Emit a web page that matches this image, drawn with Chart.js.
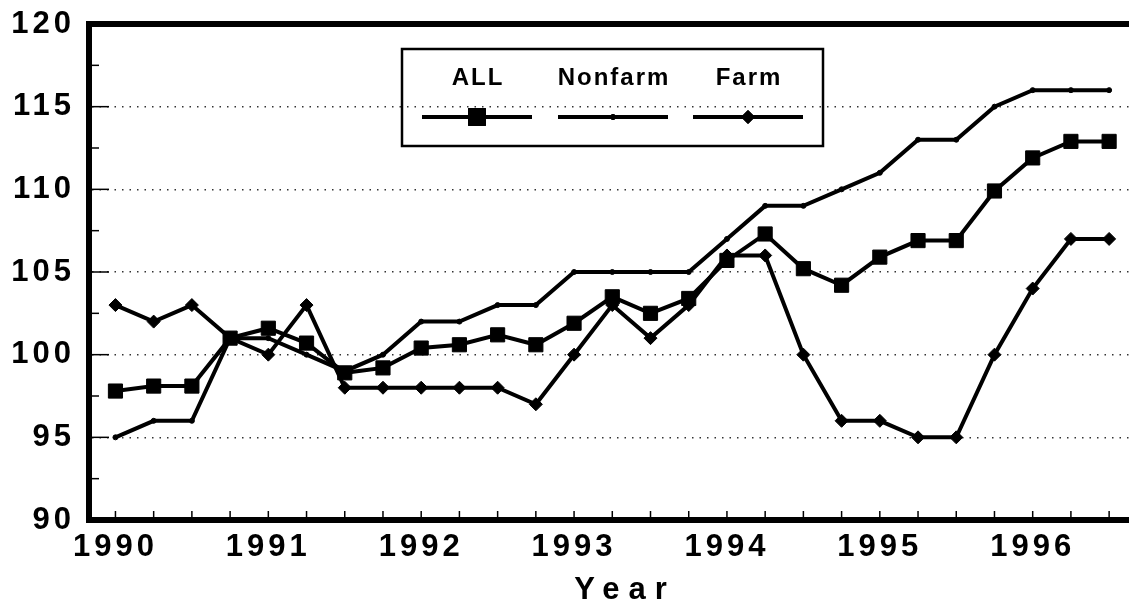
<!DOCTYPE html>
<html>
<head>
<meta charset="utf-8">
<title>ALL / Nonfarm / Farm</title>
<script src="https://cdn.jsdelivr.net/npm/chart.js@4.4.1/dist/chart.umd.min.js"></script>
<style>
  html, body { margin: 0; padding: 0; background: #fff; }
  canvas { display: block; }
</style>
</head>
<body>
<canvas id="chart" width="1129" height="604"></canvas>
<script>
// quarterly points, 1990 Q1 .. 1996 Q3
const quarters = [1990, 1990.25, 1990.5, 1990.75, 1991, 1991.25, 1991.5, 1991.75,
  1992, 1992.25, 1992.5, 1992.75, 1993, 1993.25, 1993.5, 1993.75,
  1994, 1994.25, 1994.5, 1994.75, 1995, 1995.25, 1995.5, 1995.75,
  1996, 1996.25, 1996.5];
const allValues = [97.8, 98.1, 98.1, 101.0, 101.6, 100.7, 98.9, 99.2,
  100.4, 100.6, 101.2, 100.6, 101.9, 103.5, 102.5, 103.4,
  105.7, 107.3, 105.2, 104.2, 105.9, 106.9, 106.9, 109.9,
  111.9, 112.9, 112.9];
const nonfarmValues = [95, 96, 96, 101, 101, 100, 99, 100,
  102, 102, 103, 103, 105, 105, 105, 105,
  107, 109, 109, 110, 111, 113, 113, 115,
  116, 116, 116];
const farmValues = [103, 102, 103, 101, 100, 103, 98, 98,
  98, 98, 98, 97, 100, 103, 101, 103,
  106, 106, 100, 96, 96, 95, 95, 100,
  104, 107, 107];
const yearTicks = [1990, 1991, 1992, 1993, 1994, 1995, 1996];
const yTicks = [90, 95, 100, 105, 110, 115, 120];

const FONT = '"Liberation Sans", Arial, Helvetica, sans-serif';
const toPoints = vals => vals.map((v, i) => ({ x: quarters[i], y: v }));

// frame top line, inner tick marks, legend box and axis title
const decorations = {
  id: 'decorations',
  beforeDraw(chart) {
    chart.ctx.letterSpacing = '4px';
  },
  afterDraw(chart) {
    const ctx = chart.ctx;
    const area = chart.chartArea;
    const xs = chart.scales.x, ys = chart.scales.y;
    ctx.save();
    ctx.letterSpacing = '0px';
    ctx.strokeStyle = '#000';

    // top frame
    ctx.lineWidth = 6;
    ctx.beginPath();
    ctx.moveTo(area.left - 3, area.top);
    ctx.lineTo(area.right, area.top);
    ctx.stroke();

    // y ticks (inside)
    ctx.lineWidth = 1.5;
    for (let v = 92.5; v < 120; v += 2.5) {
      const y = ys.getPixelForValue(v);
      const len = (v % 5 === 0) ? 17 : 7;
      ctx.beginPath();
      ctx.moveTo(area.left + 3, y);
      ctx.lineTo(area.left + 3 + len, y);
      ctx.stroke();
    }
    // x ticks (inside) at each quarter
    quarters.forEach(q => {
      const x = xs.getPixelForValue(q);
      ctx.beginPath();
      ctx.moveTo(x, area.bottom - 3);
      ctx.lineTo(x, area.bottom - 9);
      ctx.stroke();
    });

    // legend
    const box = { x: 402, y: 49, w: 421, h: 97 };
    ctx.lineWidth = 2.5;
    ctx.strokeRect(box.x, box.y, box.w, box.h);
    const centers = [477, 613, 748];
    const legendRadius = [12, 2.5, 6.5];
    ctx.font = 'bold 24px ' + FONT;
    ctx.textAlign = 'center';
    ctx.textBaseline = 'alphabetic';
    ctx.fillStyle = '#000';
    chart.data.datasets.forEach((ds, i) => {
      const cx = centers[i];
      ctx.letterSpacing = '2px';
      ctx.fillText(ds.label, cx + 1, 85);
      ctx.letterSpacing = '0px';
      ctx.lineWidth = ds.borderWidth;
      ctx.beginPath();
      ctx.moveTo(cx - 55, 117);
      ctx.lineTo(cx + 55, 117);
      ctx.stroke();
      ctx.fillStyle = '#000';
      ctx.lineWidth = 1;
      Chart.helpers.drawPoint(ctx, {
        pointStyle: ds.pointStyle, radius: legendRadius[i], rotation: 0, borderWidth: 1
      }, cx, 117);
      ctx.fill();
      ctx.stroke();
    });

    // axis title
    ctx.font = 'bold 31px ' + FONT;
    ctx.letterSpacing = '9px';
    ctx.fillText('Year', 625, 599);
    ctx.restore();
    ctx.letterSpacing = '0px';
  }
};

const common = {
  borderColor: '#000',
  backgroundColor: '#000',
  pointBackgroundColor: '#000',
  pointBorderColor: '#000',
  pointBorderWidth: 1,
  tension: 0,
  fill: false
};

new Chart(document.getElementById('chart'), {
  type: 'line',
  data: {
    datasets: [
      Object.assign({ label: 'ALL', data: toPoints(allValues), borderWidth: 4,
        pointStyle: 'rect', pointRadius: 10 }, common),
      Object.assign({ label: 'Nonfarm', data: toPoints(nonfarmValues), borderWidth: 4,
        pointStyle: 'circle', pointRadius: 2.5 }, common),
      Object.assign({ label: 'Farm', data: toPoints(farmValues), borderWidth: 4,
        pointStyle: 'rectRot', pointRadius: 6.5 }, common)
    ]
  },
  options: {
    responsive: false,
    animation: false,
    events: [],
    layout: { autoPadding: false, padding: { top: 24, right: 0, left: 0, bottom: 0 } },
    plugins: { legend: { display: false }, tooltip: { enabled: false } },
    scales: {
      x: {
        type: 'linear',
        min: 1989.827,
        max: 1996.63,
        afterFit: s => { s.height = 84; s.paddingLeft = 0; s.paddingRight = 0; },
        afterBuildTicks: s => { s.ticks = yearTicks.map(v => ({ value: v })); },
        grid: { display: false, drawTicks: false },
        border: { display: true, color: '#000', width: 6 },
        ticks: {
          color: '#000',
          padding: 9,
          maxRotation: 0,
          autoSkip: false,
          font: { family: FONT, size: 31, weight: 'bold' },
          callback: v => String(v)
        }
      },
      y: {
        min: 90,
        max: 120,
        afterFit: s => { s.width = 89; s.paddingTop = 0; s.paddingBottom = 0; },
        afterBuildTicks: s => { s.ticks = yTicks.map(v => ({ value: v })); },
        grid: {
          drawTicks: false,
          color: ctx => (ctx.tick && (ctx.tick.value === 90 || ctx.tick.value === 120)) ? 'rgba(0,0,0,0)' : '#333',
          lineWidth: 1.5
        },
        border: { display: true, color: '#000', width: 6, dash: [1.5, 6] },
        ticks: {
          color: '#000',
          padding: 14,
          font: { family: FONT, size: 31, weight: 'bold' }
        }
      }
    }
  },
  plugins: [decorations]
});
</script>
</body>
</html>
